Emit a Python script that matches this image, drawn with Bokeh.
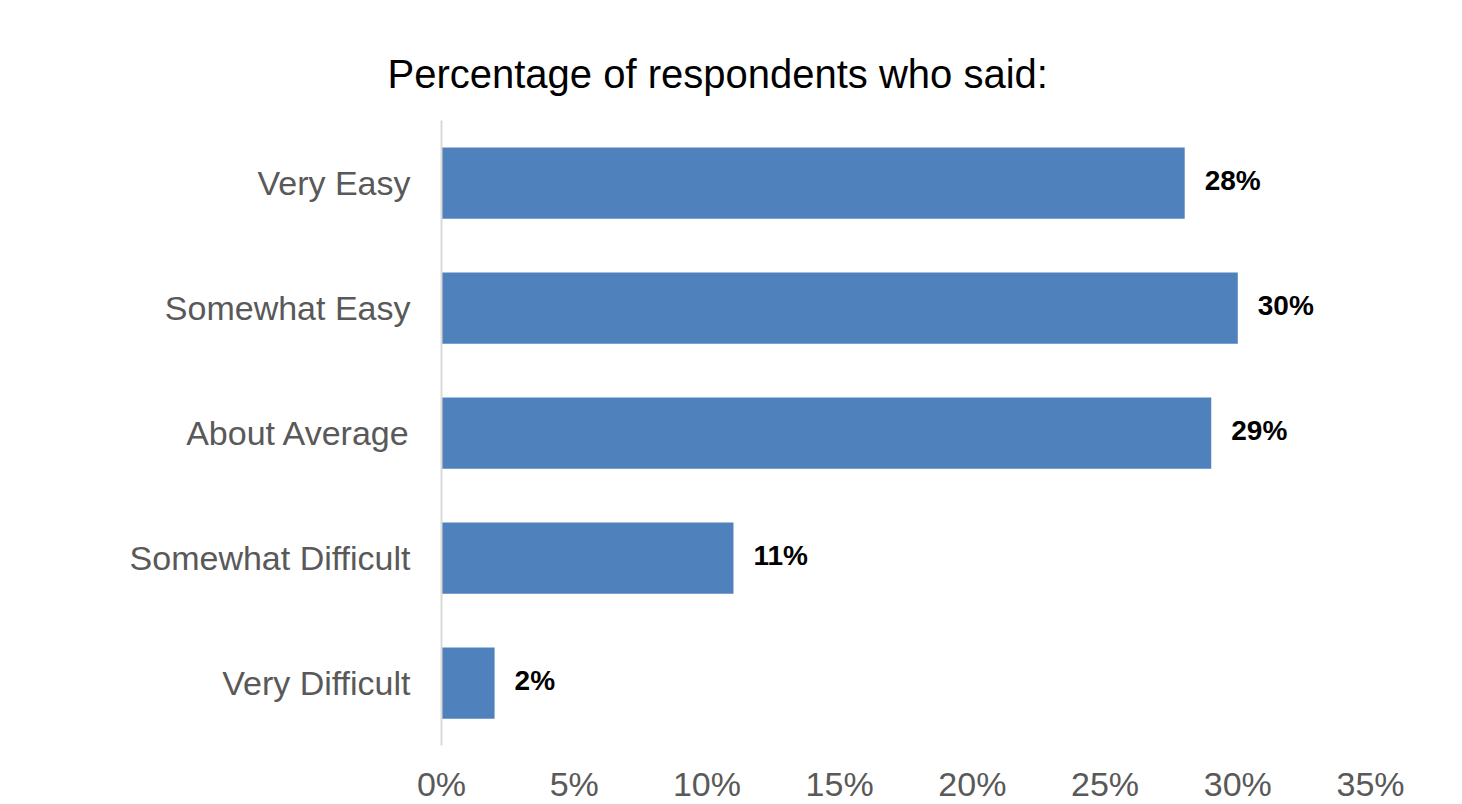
from bokeh.plotting import figure
from bokeh.models import ColumnDataSource, Range1d, FactorRange, FixedTicker, PrintfTickFormatter, Title
from bokeh.core.properties import value
from bokeh.embed import file_html
from bokeh.resources import INLINE

categories = ["Very Easy", "Somewhat Easy", "About Average", "Somewhat Difficult", "Very Difficult"]
percentages = [28, 30, 29, 11, 2]
labels = ["28%", "30%", "29%", "11%", "2%"]
x_ticks = [0, 5, 10, 15, 20, 25, 30, 35]

FONT = "Liberation Sans"

src = ColumnDataSource(dict(cat=categories, pct=percentages, lab=labels))

p = figure(
    y_range=FactorRange(factors=list(reversed(categories)), range_padding=0),
    x_range=Range1d(0, 35),
    frame_width=929, frame_height=625,
    min_border_left=441, min_border_right=76, min_border_top=120, min_border_bottom=30,
    output_backend="svg", toolbar_location=None,
)
p.title = Title(text="Percentage of respondents who said:", align="left", offset=-54,
                text_font=FONT, text_font_size="40px", text_font_style="normal",
                text_color="#000000", standoff=50)

p.hbar(y="cat", right="pct", left=0, height=0.57, source=src,
       fill_color="#4f81bd", line_color=None)
p.text(x="pct", y="cat", text="lab", source=src, x_offset=20, y_offset=-3,
       text_font=value(FONT), text_font_size="28px", text_font_style="bold",
       text_color="#000000", text_baseline="middle", text_align="left")

p.outline_line_color = None
p.xgrid.grid_line_color = None
p.ygrid.grid_line_color = None
p.background_fill_color = "white"
p.border_fill_color = "white"

xa = p.xaxis[0]
xa.ticker = FixedTicker(ticks=x_ticks)
xa.formatter = PrintfTickFormatter(format="%d%%")
xa.axis_line_color = None
xa.major_tick_line_color = None
xa.minor_tick_line_color = None
xa.major_label_text_font = FONT
xa.major_label_text_font_size = "34px"
xa.major_label_text_color = "#595959"
xa.major_label_standoff = 13

ya = p.yaxis[0]
ya.axis_line_color = "#d9d9d9"
ya.axis_line_width = 2
ya.major_tick_line_color = None
ya.minor_tick_line_color = None
ya.major_label_text_font = FONT
ya.major_label_text_font_size = "34px"
ya.major_label_text_color = "#595959"
ya.major_label_standoff = 25

open("out.html", "w").write(file_html(p, INLINE))
